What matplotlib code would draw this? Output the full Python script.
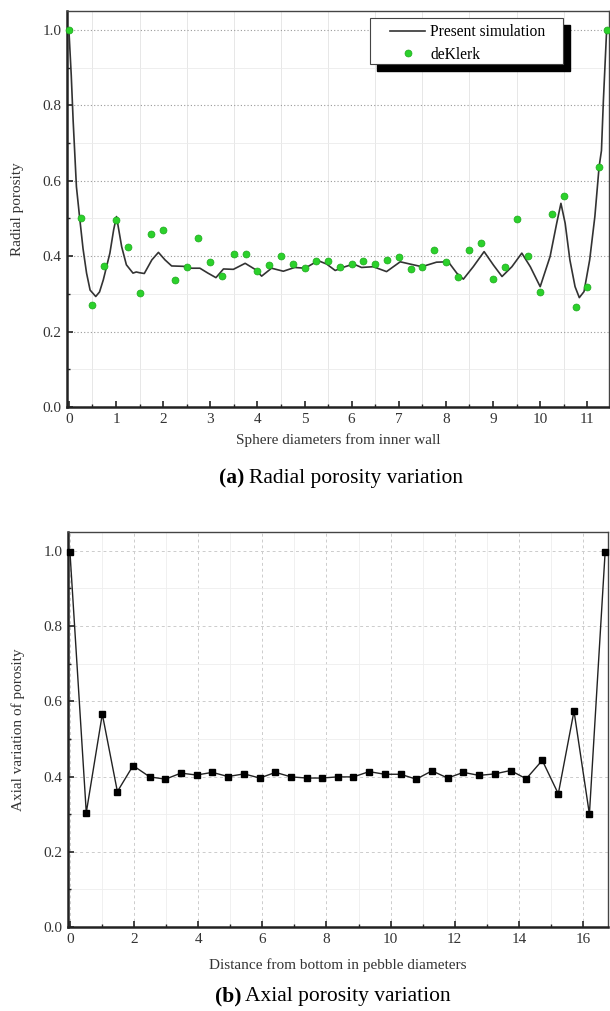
import matplotlib
matplotlib.use("Agg")
import matplotlib.pyplot as plt
from matplotlib.patches import Rectangle
from matplotlib.ticker import MultipleLocator, FormatStrFormatter

plt.rcParams['font.family'] = ['Liberation Serif', 'DejaVu Serif']

# (a) radial porosity - present simulation
sim_x = [0.00, 0.05, 0.09, 0.16, 0.23, 0.30, 0.375, 0.45, 0.57, 0.65,
         0.73, 0.87, 0.95, 1.01, 1.12, 1.22, 1.36, 1.43, 1.50, 1.60,
         1.76, 1.90, 2.04, 2.18, 2.43, 2.60, 2.78, 2.95, 3.12, 3.28,
         3.49, 3.74, 3.95, 4.09, 4.30, 4.55, 4.79, 5.01, 5.29, 5.47,
         5.65, 5.86, 6.04, 6.21, 6.46, 6.74, 7.03, 7.24, 7.49, 7.80,
         8.05, 8.23, 8.37, 8.58, 8.81, 9.01, 9.19, 9.40, 9.61, 9.79,
         10.00, 10.21, 10.35, 10.44, 10.53, 10.63, 10.74, 10.83, 10.93, 11.05,
         11.16, 11.25, 11.30, 11.34, 11.41]
sim_y = [1.000, 0.880, 0.760, 0.584, 0.500, 0.420, 0.355, 0.310, 0.293, 0.305,
         0.337, 0.408, 0.470, 0.505, 0.425, 0.377, 0.355, 0.358, 0.356, 0.354,
         0.390, 0.410, 0.390, 0.374, 0.373, 0.368, 0.368, 0.355, 0.343, 0.366,
         0.365, 0.381, 0.365, 0.347, 0.368, 0.360, 0.370, 0.368, 0.388, 0.379,
         0.362, 0.372, 0.379, 0.370, 0.372, 0.359, 0.385, 0.379, 0.372, 0.384,
         0.385, 0.355, 0.339, 0.372, 0.412, 0.376, 0.346, 0.372, 0.408, 0.372,
         0.319, 0.399, 0.487, 0.540, 0.487, 0.390, 0.319, 0.290, 0.306, 0.390,
         0.505, 0.637, 0.680, 0.810, 1.000]

# (a) deKlerk data points
klerk_x = [0.00, 0.25, 0.50, 0.75, 1.00, 1.25, 1.50, 1.75, 2.00, 2.25,
           2.50, 2.75, 3.00, 3.25, 3.50, 3.75, 4.00, 4.25, 4.50, 4.75,
           5.00, 5.25, 5.50, 5.75, 6.00, 6.25, 6.50, 6.75, 7.00, 7.25,
           7.50, 7.75, 8.00, 8.25, 8.50, 8.75, 9.00, 9.25, 9.50, 9.75,
           10.00, 10.25, 10.50, 10.75, 11.00, 11.25, 11.42]
klerk_y = [1.000, 0.500, 0.270, 0.375, 0.496, 0.425, 0.303, 0.458, 0.469, 0.337,
           0.372, 0.447, 0.385, 0.348, 0.405, 0.405, 0.361, 0.376, 0.401, 0.378,
           0.368, 0.388, 0.388, 0.372, 0.378, 0.387, 0.378, 0.389, 0.399, 0.365,
           0.372, 0.416, 0.385, 0.346, 0.415, 0.436, 0.340, 0.372, 0.498, 0.401,
           0.304, 0.511, 0.560, 0.264, 0.317, 0.637, 1.000]

# (b) axial porosity
axial_x = [0.00, 0.51, 1.01, 1.48, 1.97, 2.49, 2.98, 3.46, 3.95, 4.44,
           4.93, 5.43, 5.92, 6.41, 6.90, 7.39, 7.85, 8.35, 8.84, 9.33,
           9.82, 10.31, 10.80, 11.29, 11.78, 12.27, 12.76, 13.25, 13.74, 14.23,
           14.73, 15.23, 15.72, 16.20, 16.69]
axial_y = [0.998, 0.304, 0.566, 0.360, 0.429, 0.399, 0.393, 0.409, 0.404, 0.411,
           0.400, 0.407, 0.396, 0.411, 0.399, 0.396, 0.396, 0.399, 0.399, 0.413,
           0.406, 0.406, 0.393, 0.415, 0.396, 0.411, 0.403, 0.407, 0.416, 0.394,
           0.443, 0.354, 0.574, 0.300, 0.996]

W, H = 610, 1011
fig = plt.figure(figsize=(W / 100, H / 100), dpi=100)


def px_box(left, top, right, bottom):
    return [left / W, 1 - bottom / H, (right - left) / W, (bottom - top) / H]


def fig_text(x, y, s, **kw):
    return fig.text(x / W, 1 - y / H, s, **kw)


def caption(cx, y, tag, rest, size=15.5):
    # bold tag + normal text, centred together on cx (pixels)
    t1 = fig_text(0, y, tag, ha='left', va='center', fontsize=size, fontweight='bold')
    t2 = fig_text(0, y, rest, ha='left', va='center', fontsize=size)
    r = fig.canvas.get_renderer()
    w1 = t1.get_window_extent(r).width
    w2 = t2.get_window_extent(r).width
    gap = 4
    x0 = cx - (w1 + gap + w2) / 2
    t1.set_x(x0 / W)
    t2.set_x((x0 + w1 + gap) / W)


def style_axes(ax, xmaj, xmin):
    ax.set_ylim(0, 1.05)
    ax.xaxis.set_major_locator(MultipleLocator(xmaj))
    ax.xaxis.set_minor_locator(MultipleLocator(xmin))
    ax.yaxis.set_major_locator(MultipleLocator(0.2))
    ax.yaxis.set_minor_locator(MultipleLocator(0.1))
    ax.yaxis.set_major_formatter(FormatStrFormatter('%.1f'))
    ax.tick_params(which='both', direction='in', top=False, right=False,
                   color='#222222', labelcolor='#333333', labelsize=11)
    ax.tick_params(which='major', length=4, width=1.2, pad=4)
    ax.tick_params(which='minor', length=2.5, width=1.0)
    for s in ['left', 'bottom']:
        ax.spines[s].set_linewidth(1.8)
        ax.spines[s].set_color('#222222')
    for s in ['top', 'right']:
        ax.spines[s].set_linewidth(1.0)
        ax.spines[s].set_color('#444444')
    ax.set_axisbelow(True)


# ---- (a) radial porosity ----
ax1 = fig.add_axes(px_box(67, 11, 609, 407))
style_axes(ax1, 1, 0.5)
ax1.set_xlim(-0.04, 11.46)
ax1.yaxis.grid(True, which='major', ls=(0, (1, 2)), color='#999999', lw=0.8)
ax1.yaxis.grid(True, which='minor', color='#ebebeb', lw=0.6)
ax1.xaxis.grid(True, which='minor', color='#e3e3e3', lw=0.6)

ax1.plot(sim_x, sim_y, color='#333333', lw=1.2, label='Present simulation', zorder=3)
ax1.plot(klerk_x, klerk_y, ls='none', marker='o', ms=5.0, mfc='#2bd12b',
         mec='#1fa81f', mew=0.5, label='deKlerk', zorder=4, clip_on=False)

# legend box with solid black drop shadow
fx0, fy0 = (370 - 67) / 542, (407 - 64) / 396
fw, fh = 193 / 542, 46 / 396
ax1.add_patch(Rectangle((fx0 + 7 / 542, fy0 - 7 / 396), fw, fh, transform=ax1.transAxes,
                        facecolor='black', edgecolor='black', clip_on=False, zorder=6))
ax1.add_patch(Rectangle((fx0, fy0), fw, fh, transform=ax1.transAxes,
                        facecolor='white', edgecolor='#444444', lw=0.8, clip_on=False, zorder=7))
leg = ax1.legend(loc='center', bbox_to_anchor=(fx0 + fw / 2 + 1 / 542, fy0 + fh / 2 - 2.5 / 396),
                 frameon=False, fontsize=11.2, handlelength=2.3, handletextpad=0.3,
                 labelspacing=0.4, borderpad=0, numpoints=1)
leg.set_zorder(8)

fig_text(18, 209, 'Radial porosity', rotation=90, ha='center', va='center',
         fontsize=11, color='#333333')
fig_text(338, 440, 'Sphere diameters from inner wall', ha='center', va='center',
         fontsize=11, color='#333333')
caption(341, 478, '(a)', 'Radial porosity variation')

# ---- (b) axial porosity ----
ax2 = fig.add_axes(px_box(68, 532, 608, 927))
style_axes(ax2, 2, 1)
ax2.set_xlim(-0.06, 16.78)
ax2.yaxis.grid(True, which='major', ls=(0, (3, 3)), color='#cccccc', lw=0.7)
ax2.yaxis.grid(True, which='minor', color='#eeeeee', lw=0.6)
ax2.xaxis.grid(True, which='major', ls=(0, (3, 3)), color='#cccccc', lw=0.7)
ax2.xaxis.grid(True, which='minor', color='#eeeeee', lw=0.6)

ax2.plot(axial_x, axial_y, color='#222222', lw=1.0, marker='s', ms=3.8,
         mfc='black', mec='black', zorder=3, clip_on=False)

fig_text(18, 730, 'Axial variation of porosity', rotation=90, ha='center', va='center',
         fontsize=11, color='#333333')
fig_text(338, 965, 'Distance from bottom in pebble diameters', ha='center', va='center',
         fontsize=11, color='#333333')
caption(333, 996, '(b)', 'Axial porosity variation')

fig.savefig('out.png', dpi=100)
